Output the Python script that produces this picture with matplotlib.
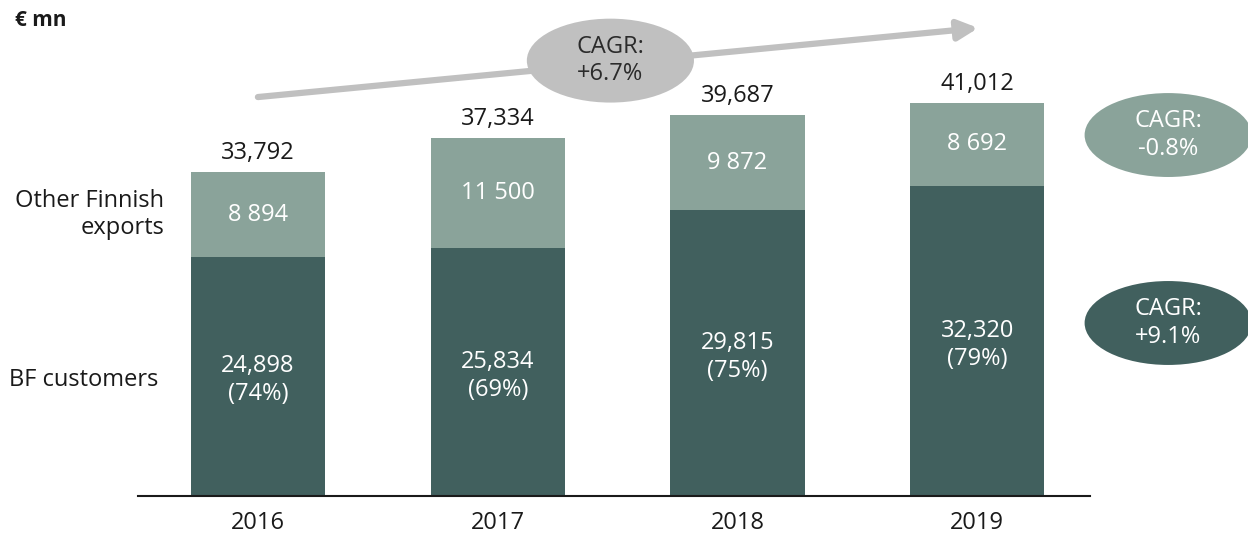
import matplotlib
matplotlib.use('Agg')
import matplotlib.pyplot as plt
from matplotlib.patches import Ellipse

plt.rcParams['font.family'] = ['Open Sans', 'DejaVu Sans']

# Data
years = ['2016', '2017', '2018', '2019']
bf_customers = [24898, 25834, 29815, 32320]
other_exports = [8894, 11500, 9872, 8692]
bf_share = ['74%', '69%', '75%', '79%']
totals = [33792, 37334, 39687, 41012]
other_labels = ['8 894', '11 500', '9 872', '8 692']

dark = '#41605e'
light = '#8aa39a'
grey = '#c0c0c0'
fs = 17

fig = plt.figure(figsize=(12.48, 5.36), dpi=100)
ax = fig.add_axes([138 / 1248, 40 / 536, 952 / 1248, 479.5 / 536])

x = range(len(years))
w = 0.56
ax.bar(x, bf_customers, width=w, color=dark, zorder=2)
ax.bar(x, other_exports, width=w, bottom=bf_customers, color=light, zorder=2)

for i in x:
    ax.text(i, bf_customers[i] / 2 - 400, f'{bf_customers[i]:,}\n({bf_share[i]})',
            ha='center', va='center', color='white', fontsize=fs, linespacing=1.22)
    ax.text(i, bf_customers[i] + other_exports[i] / 2, other_labels[i],
            ha='center', va='center', color='white', fontsize=fs)
    ax.text(i, totals[i] + 2000, f'{totals[i]:,}',
            ha='center', va='center', color='#1a1a1a', fontsize=fs)

# series labels on the left
ax.text(-0.39, bf_customers[0] + other_exports[0] / 2, 'Other Finnish\nexports',
        ha='right', va='center', multialignment='right', fontsize=fs,
        color='#1a1a1a', linespacing=1.2)
ax.text(-0.415, 12100, 'BF customers', ha='right', va='center', fontsize=fs,
        color='#1a1a1a')

# total growth arrow
ax.annotate('', xy=(3.004, 48800), xytext=(0, 41600),
            arrowprops=dict(arrowstyle='-|>', lw=4.5, color=grey,
                            mutation_scale=30, shrinkA=0, shrinkB=0),
            annotation_clip=False, zorder=3)

# CAGR bubbles
bubbles = [
    (1.47, 45400, grey, '#2b2b2b', 'CAGR:\n+6.7%'),
    (3.796, 37640, light, 'white', 'CAGR:\n-0.8%'),
    (3.796, 18040, dark, 'white', 'CAGR:\n+9.1%'),
]
for bx, by, fc, tc, txt in bubbles:
    ax.add_patch(Ellipse((bx, by), 0.697, 8750, facecolor=fc, edgecolor='none',
                         clip_on=False, zorder=4))
    ax.text(bx, by, txt, ha='center', va='center', color=tc, fontsize=fs,
            linespacing=1.2, zorder=5)

fig.text(15 / 1248, 1 - 21 / 536, '€ mn', fontsize=15, fontweight='bold',
         ha='left', va='center', color='#1a1a1a')

ax.set_xlim(-0.5, 3.47)
ax.set_ylim(0, 50000)
ax.set_xticks(list(x))
ax.set_xticklabels(years)
ax.set_yticks([])
ax.tick_params(axis='x', length=0, pad=11, labelsize=fs, colors='#1a1a1a')
for s in ['top', 'right', 'left']:
    ax.spines[s].set_visible(False)
ax.spines['bottom'].set_linewidth(1.5)
ax.spines['bottom'].set_color('#1a1a1a')
ax.patch.set_alpha(0)

fig.savefig('out.png', dpi=100)
